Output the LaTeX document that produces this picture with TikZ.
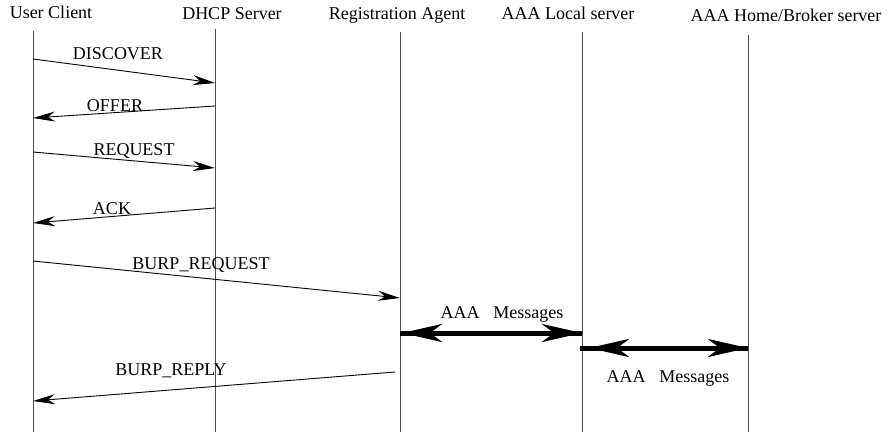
\documentclass[tikz,border=0pt]{standalone}
\usepackage{fontspec}
\setmainfont{Liberation Serif}
\usetikzlibrary{arrows.meta}
\begin{document}
\begin{tikzpicture}[x=1pt,y=-1pt,
  life/.style={draw=black!70, line width=1pt},
  msg/.style={draw, line width=0.9pt, -{Stealth[length=22pt,width=10pt,inset=7pt]}},
  aaa/.style={draw, line width=5pt, {Stealth[length=40pt,width=18pt,inset=12pt]}-{Stealth[length=40pt,width=18pt,inset=12pt]}},
  lbl/.style={font=\fontsize{18}{22}\selectfont, inner sep=0pt, anchor=base}]
\useasboundingbox (0,0) rectangle (894,433);

% lifeline heads
\node[lbl] (hUC)  at (51,19)  {User Client};
\node[lbl] (hDH)  at (232,20) {DHCP Server};
\node[lbl] (hRA)  at (397,20) {Registration Agent};
\node[lbl] (hLS)  at (568,20) {AAA Local server};
\node[lbl] (hHS)  at (786,22) {AAA Home/Broker server};

% lifelines
\coordinate (uT) at (33,31);  \coordinate (uB) at (33,432);
\coordinate (dT) at (215,29); \coordinate (dB) at (215,432);
\coordinate (rT) at (400,32); \coordinate (rB) at (400,432);
\coordinate (lT) at (582,32); \coordinate (lB) at (582,432);
\coordinate (hT) at (748,35); \coordinate (hB) at (748,432);
\foreach \a/\b in {uT/uB,dT/dB,rT/rB,lT/lB,hT/hB} \draw[life] (\a) -- (\b);

% message end points
\coordinate (m1a) at (33,59);   \coordinate (m1b) at (215,83);
\coordinate (m2a) at (215,106); \coordinate (m2b) at (33,118);
\coordinate (m3a) at (33,152);  \coordinate (m3b) at (215,168);
\coordinate (m4a) at (215,208); \coordinate (m4b) at (33,223);
\coordinate (m5a) at (33,261);  \coordinate (m5b) at (400,298);
\coordinate (m6a) at (400,333); \coordinate (m6b) at (582,333);
\coordinate (m7a) at (580,348); \coordinate (m7b) at (748,348);
\coordinate (m8a) at (395,372); \coordinate (m8b) at (33,401);

% DHCP exchange and registration
\draw[msg] (m1a) -- (m1b);
\draw[msg] (m2a) -- (m2b);
\draw[msg] (m3a) -- (m3b);
\draw[msg] (m4a) -- (m4b);
\draw[msg] (m5a) -- (m5b);
\draw[msg] (m8a) -- (m8b);

% AAA exchanges
\draw[line width=5pt] (m6a) -- (m6b);
\draw[aaa, shorten <=2pt] (m6a) -- (m6b);
\draw[line width=5pt] (m7a) -- (m7b);
\draw[aaa, shorten <=9pt] (m7a) -- (m7b);

% message labels
\node[lbl] (tDisc) at (118,60)  {DISCOVER};
\node[lbl] (tOff)  at (115,112) {OFFER};
\node[lbl] (tReq)  at (134,155) {REQUEST};
\node[lbl] (tAck)  at (112,214) {ACK};
\node[lbl] (tBrq)  at (201,269) {BURP\_REQUEST};
\node[lbl] (tAa1)  at (502,318) {AAA\hspace{14pt}Messages};
\node[lbl] (tAa2)  at (668,382) {AAA\hspace{14pt}Messages};
\node[lbl] (tBrp)  at (171,375) {BURP\_REPLY};
\end{tikzpicture}
\end{document}
